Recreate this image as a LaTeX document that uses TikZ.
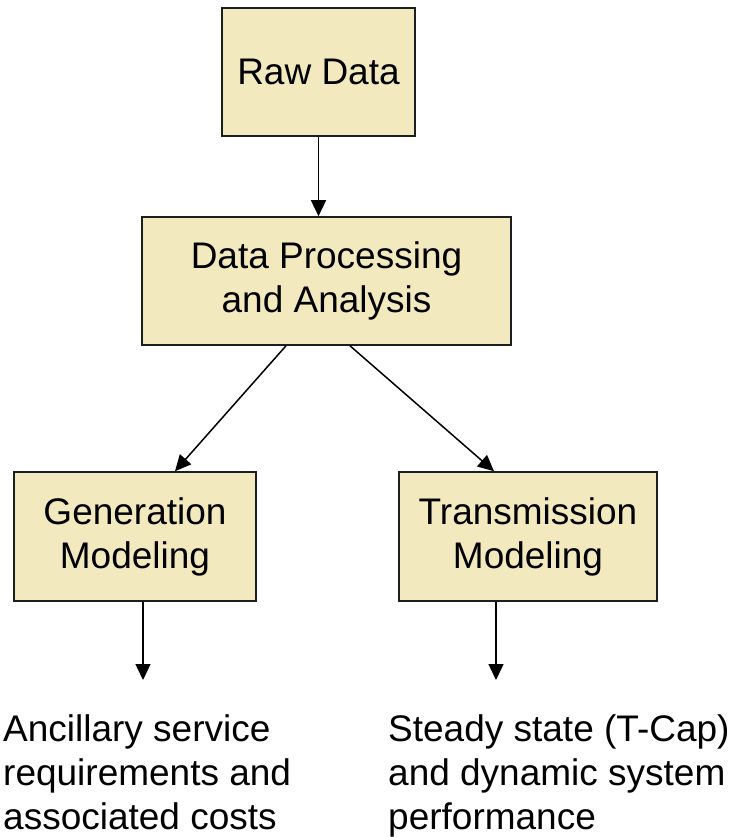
\documentclass[tikz,border=0pt]{standalone}
\usepackage{fontspec}
\setmainfont{Liberation Sans}
\usetikzlibrary{arrows.meta}
\definecolor{boxfill}{RGB}{243,233,191}
\definecolor{boxline}{RGB}{30,30,30}
\tikzset{
  stepbox/.style={draw=boxline, line width=1.6pt, fill=boxfill, align=center,
    inner sep=0pt, font=\fontsize{37}{44}\selectfont},
  conn/.style={line width=1.5pt, -{Triangle[length=16pt,width=15pt]}},
  outtext/.style={align=left, anchor=north west, inner sep=0pt,
    font=\fontsize{37}{44}\selectfont}
}
\begin{document}
\begin{tikzpicture}[x=1pt,y=-1pt]
\useasboundingbox (0,0) rectangle (734,837);
\node[stepbox, minimum width=193pt, minimum height=128pt] (raw) at (318.5,72) {Raw Data};
\node[stepbox, minimum width=369pt, minimum height=128pt] (dp) at (326.5,281) {Data Processing\\and Analysis};
\node[stepbox, minimum width=242pt, minimum height=129pt] (gen) at (135,536.5) {Generation\\Modeling};
\node[stepbox, minimum width=258pt, minimum height=129pt] (trans) at (528,536.5) {Transmission\\Modeling};
\coordinate (genout) at (143,680);
\coordinate (transout) at (496,680);
\node[outtext] (anc) at (3,714) {Ancillary service\\requirements and\\associated costs};
\node[outtext] (ste) at (388,714) {Steady state (T-Cap)\\and dynamic system\\performance};
\draw[conn] (raw.south) -- (raw.south |- dp.north);
\draw[conn] ([xshift=-40.5pt]dp.south) -- ([xshift=40pt]gen.north);
\draw[conn] ([xshift=23.5pt]dp.south) -- ([xshift=-34pt]trans.north);
\draw[conn] (gen.south -| genout) -- (genout);
\draw[conn] (trans.south -| transout) -- (transout);
\end{tikzpicture}
\end{document}
